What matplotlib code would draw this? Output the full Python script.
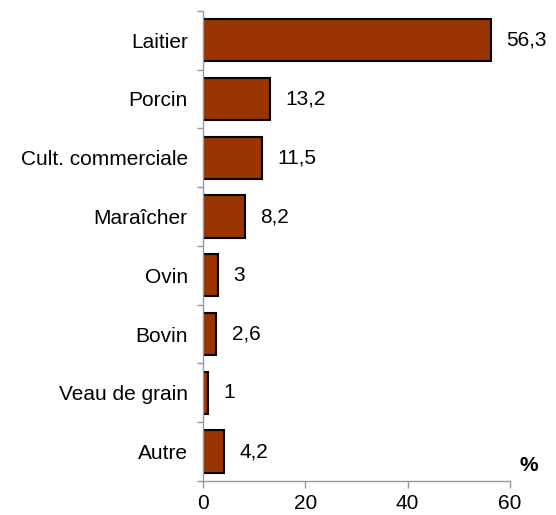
import matplotlib.pyplot as plt
import numpy as np

categories = ['Laitier', 'Porcin', 'Cult. commerciale', 'Maraîcher', 'Ovin',
              'Bovin', 'Veau de grain', 'Autre']
values = [56.3, 13.2, 11.5, 8.2, 3, 2.6, 1, 4.2]
labels = ['56,3', '13,2', '11,5', '8,2', '3', '2,6', '1', '4,2']

plt.rcParams['font.family'] = ['Liberation Sans', 'DejaVu Sans']

fig = plt.figure(figsize=(5.56, 5.15), dpi=100)
ax = fig.add_axes([0.365, 0.066, 0.552, 0.913])

ypos = np.arange(len(categories))[::-1]
ax.barh(ypos, values, height=0.72, color='#993300', edgecolor='black', linewidth=1.5)

for y, v, lab in zip(ypos, values, labels):
    ax.annotate(lab, (v, y), xytext=(11, 0), textcoords='offset points',
                va='center', ha='left', fontsize=15)

ax.set_xlim(0, 60)
ax.set_ylim(-0.5, len(categories) - 0.5)
ax.set_xticks([0, 20, 40, 60])
ax.set_yticks(ypos)
ax.set_yticklabels(categories)
ax.set_yticks(np.arange(-0.5, len(categories)), minor=True)
ax.tick_params(axis='y', which='major', length=0, pad=11, labelsize=15)
ax.tick_params(axis='y', which='minor', length=4, color='#999999', width=1)
ax.tick_params(axis='x', length=5, color='#999999', width=1, labelsize=15, pad=4)

for s in ['top', 'right']:
    ax.spines[s].set_visible(False)
for s in ['left', 'bottom']:
    ax.spines[s].set_color('#999999')
    ax.spines[s].set_linewidth(1)

ax.text(1.06, 0.012, '%', transform=ax.transAxes, fontsize=15, fontweight='bold',
        ha='center', va='bottom')

fig.savefig('out.png', dpi=100)
